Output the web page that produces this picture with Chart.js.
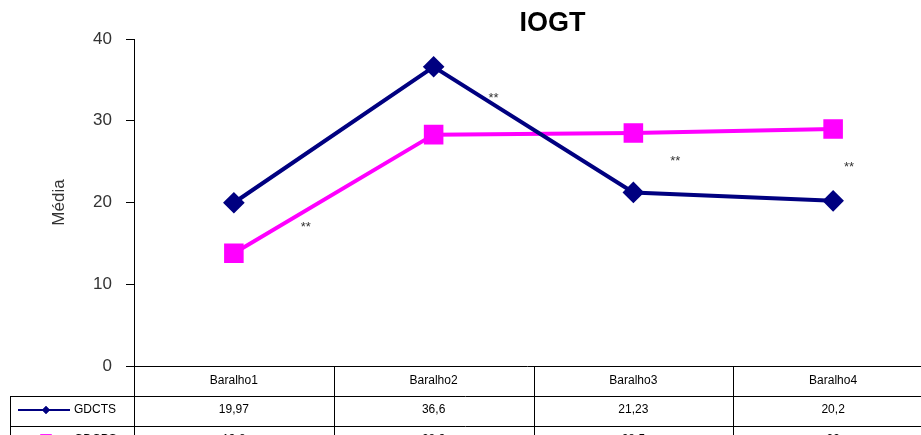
<!DOCTYPE html>
<html>
<head>
<meta charset="utf-8">
<title>IOGT</title>
<script src="https://cdn.jsdelivr.net/npm/chart.js@4/dist/chart.umd.min.js"></script>
<style>
  html, body { margin: 0; padding: 0; background: #fff; overflow: hidden; }
  #wrap { width: 921px; height: 435px; position: relative; }
</style>
</head>
<body>
<div id="wrap"><canvas id="chart"></canvas></div>
<script>
// chart data
const categories = ['Baralho1', 'Baralho2', 'Baralho3', 'Baralho4'];
const seriesNames = ['GDCTS', 'GDCPS'];
const gdcts = [19.97, 36.6, 21.23, 20.2];
const gdcps = [13.8, 28.3, 28.5, 29.0];
// "**" marks: position in category units and value units
const starX = [0.36, 1.3, 2.21, 3.08];
const starY = [17.0, 32.7, 25.0, 24.3];

const FONT = '"Liberation Sans", Arial, sans-serif';
const BLUE = '#000080';
const PINK = '#FF00FF';

const fmt = v => String(v).replace('.', ',');

// the category axis runs a bit past the right edge of the canvas, as in the original
const widenX = {
  id: 'widenX',
  afterLayout(chart) {
    const x = chart.scales.x;
    x.right = x.left + 799;
    x.width = 799;
    x.configure();
  }
};

// title, star marks and the data table under the plot
const extras = {
  id: 'extras',
  afterDraw(chart) {
    const { ctx, chartArea: a, scales } = chart;
    const x = scales.x, y = scales.y;
    const p0 = x.getPixelForValue(0), p1 = x.getPixelForValue(1);
    const slot = p1 - p0;
    ctx.save();

    // title
    ctx.fillStyle = '#000';
    ctx.font = 'bold 27px ' + FONT;
    ctx.textAlign = 'center';
    ctx.textBaseline = 'middle';
    ctx.fillText('IOGT', chart.width * 0.6, 24);

    // stars
    ctx.fillStyle = '#333';
    ctx.font = '13px ' + FONT;
    starX.forEach((sx, i) => {
      ctx.fillText('**', p0 + sx * slot, y.getPixelForValue(starY[i]));
    });

    // table
    const rowH = 30;
    const top = a.bottom;
    const tableLeft = 10;
    ctx.strokeStyle = '#000';
    ctx.lineWidth = 1;
    ctx.beginPath();
    ctx.moveTo(a.left, top + 0.5); ctx.lineTo(chart.width, top + 0.5);
    for (let r = 1; r <= 2; r++) {
      const yy = Math.round(top + r * rowH) + 0.5;
      ctx.moveTo(tableLeft, yy); ctx.lineTo(chart.width, yy);
    }
    ctx.moveTo(tableLeft + 0.5, top + rowH); ctx.lineTo(tableLeft + 0.5, chart.height);
    ctx.moveTo(a.left + 0.5, top); ctx.lineTo(a.left + 0.5, chart.height);
    for (let i = 1; i < categories.length; i++) {
      const xx = Math.round(p0 + (i - 0.5) * slot) + 0.5;
      ctx.moveTo(xx, top); ctx.lineTo(xx, chart.height);
    }
    ctx.stroke();

    ctx.fillStyle = '#000';
    ctx.font = '12px ' + FONT;
    ctx.textAlign = 'center';
    categories.forEach((c, i) => {
      ctx.fillText(c, x.getPixelForValue(i), top + rowH / 2);
    });

    const rows = [
      { name: seriesNames[0], data: gdcts, color: BLUE, style: 'rectRot', r: 4 },
      { name: seriesNames[1], data: gdcps, color: PINK, style: 'rect', r: 8 }
    ];
    rows.forEach((row, ri) => {
      const cy = top + rowH * (ri + 1.5) - 1;
      ctx.strokeStyle = row.color;
      ctx.lineWidth = 2;
      ctx.beginPath();
      ctx.moveTo(18, cy); ctx.lineTo(70, cy);
      ctx.stroke();
      ctx.fillStyle = row.color;
      Chart.helpers.drawPoint(ctx, { pointStyle: row.style, radius: row.r, borderWidth: 0 }, 46, cy);
      ctx.fill();
      ctx.fillStyle = '#000';
      ctx.textAlign = 'left';
      ctx.fillText(row.name, 74, cy);
      ctx.textAlign = 'center';
      row.data.forEach((v, i) => ctx.fillText(fmt(v), x.getPixelForValue(i), cy));
    });
    ctx.restore();
  }
};

new Chart(document.getElementById('chart'), {
  type: 'line',
  data: {
    labels: categories,
    datasets: [
      {
        label: seriesNames[0], data: gdcts,
        borderColor: BLUE, backgroundColor: BLUE, borderWidth: 4,
        pointStyle: 'rectRot', pointRadius: 8, pointHoverRadius: 8, tension: 0
      },
      {
        label: seriesNames[1], data: gdcps,
        borderColor: PINK, backgroundColor: PINK, borderWidth: 4,
        pointStyle: 'rect', pointRadius: 11, pointHoverRadius: 11, tension: 0
      }
    ]
  },
  options: {
    responsive: true,
    maintainAspectRatio: false,
    animation: false,
    layout: { autoPadding: false, padding: { top: 39, bottom: 69, right: 0, left: 0 } },
    plugins: { legend: { display: false }, title: { display: false }, tooltip: { enabled: false } },
    scales: {
      x: { type: 'category', offset: true, display: false },
      y: {
        min: 0, max: 40,
        ticks: { stepSize: 10, color: '#333', padding: 14, font: { family: FONT, size: 17 } },
        grid: { drawOnChartArea: false, tickLength: 8, color: '#000' },
        border: { color: '#000', width: 1 },
        title: { display: true, text: 'Média', color: '#333', font: { family: FONT, size: 17 }, padding: { top: 49, bottom: 0 } },
        afterFit(scale) { scale.width = 134; }
      }
    }
  },
  plugins: [widenX, extras]
});
</script>
</body>
</html>
